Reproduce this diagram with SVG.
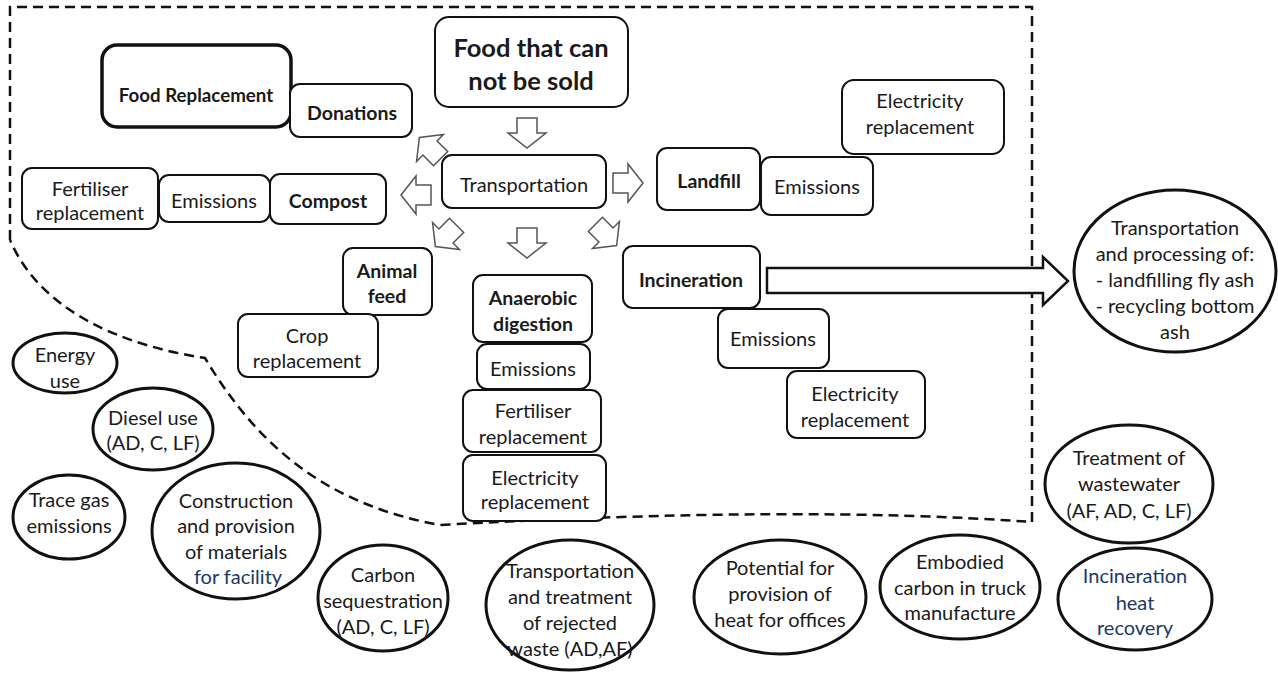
<svg xmlns="http://www.w3.org/2000/svg" width="1278" height="679" viewBox="0 0 1278 679">
<defs>
<style>
text{font-family:Lato,"Liberation Sans",sans-serif;fill:#1a1a1a;text-anchor:middle;dominant-baseline:central;font-size:20px}
.b{font-weight:bold;font-size:19.5px}
.big{font-weight:bold;font-size:25.5px}
.fr{font-weight:bold;font-size:18.7px}
.blue{fill:#203864}
.box{fill:#fff;stroke:#111;stroke-width:2}
.ell{fill:#fff;stroke:#111;stroke-width:3}
.arr{fill:#fff;stroke:#555;stroke-width:1.5;stroke-linejoin:miter}
.bnd{fill:none;stroke:#111;stroke-width:2.5;stroke-dasharray:10 6}
</style>
<path id="ha" d="M-15,-10 L0,-10 L0,-19 L15,0 L0,19 L0,10 L-15,10 Z"/>
</defs>
<rect width="1278" height="679" fill="#fff"/>
<path class="bnd" d="M10,240 L10,7 L1032,7 L1032,522 Q800,505 440,525 C330,505 260,450 205,358 C120,345 40,310 10,240"/>

<g id="connectors">
<use href="#ha" class="arr" transform="translate(527,133) rotate(90)"/>
<use href="#ha" class="arr" transform="translate(628,183)"/>
<use href="#ha" class="arr" transform="translate(416,195) rotate(180)"/>
<use href="#ha" class="arr" transform="translate(430,148) rotate(-135)"/>
<use href="#ha" class="arr" transform="translate(446,236) rotate(135)"/>
<use href="#ha" class="arr" transform="translate(527,243) rotate(90)"/>
<use href="#ha" class="arr" transform="translate(606,235) rotate(45)"/>
<path d="M767,268 L1043,268 L1043,257 L1068,281 L1043,305 L1043,293 L767,293 Z" fill="#fff" stroke="#111" stroke-width="2.5"/>
</g>

<g id="food"><rect class="box" x="435" y="17" width="193" height="90" rx="14"/><text class="big" x="531" y="47">Food that can</text><text class="big" x="531" y="80">not be sold</text></g>
<g id="foodrep"><rect x="102" y="45" width="189" height="82" rx="15" fill="#fff" stroke="#111" stroke-width="3.5"/><text class="fr" x="196" y="95">Food Replacement</text></g>
<g id="donations"><rect class="box" x="290" y="84" width="122" height="53" rx="10"/><text class="b" x="352" y="112">Donations</text></g>
<g id="transport"><rect class="box" x="442" y="155" width="164" height="53" rx="10"/><text x="524" y="184">Transportation</text></g>
<g id="fert1"><rect class="box" x="22" y="168" width="136" height="61" rx="10"/><text x="90" y="188">Fertiliser</text><text x="90" y="212">replacement</text></g>
<g id="emis1"><rect class="box" x="159" y="175" width="111" height="47" rx="10"/><text x="214" y="200">Emissions</text></g>
<g id="compost"><rect class="box" x="270" y="174" width="116" height="50" rx="10"/><text class="b" x="328" y="200">Compost</text></g>
<g id="landfill"><rect class="box" x="657" y="148" width="103" height="62" rx="10"/><text class="b" x="709" y="180">Landfill</text></g>
<g id="emis2"><rect class="box" x="761" y="157" width="112" height="58" rx="10"/><text x="817" y="186">Emissions</text></g>
<g id="elec1"><rect class="box" x="842" y="80" width="162" height="74" rx="12"/><text x="920" y="100">Electricity</text><text x="920" y="126">replacement</text></g>
<g id="animal"><rect class="box" x="343" y="248" width="89" height="67" rx="10"/><text class="b" x="387" y="270">Animal</text><text class="b" x="387" y="295">feed</text></g>
<g id="crop"><rect class="box" x="238" y="314" width="140" height="63" rx="10"/><text x="307" y="335">Crop</text><text x="307" y="360">replacement</text></g>
<g id="ad"><rect class="box" x="473" y="275" width="119" height="67" rx="10"/><text class="b" x="533" y="297">Anaerobic</text><text class="b" x="533" y="323">digestion</text></g>
<g id="emis3"><rect class="box" x="477" y="344" width="113" height="45" rx="10"/><text x="533" y="368">Emissions</text></g>
<g id="fert2"><rect class="box" x="463" y="390" width="138" height="62" rx="10"/><text x="533" y="410">Fertiliser</text><text x="533" y="436">replacement</text></g>
<g id="elec2"><rect class="box" x="463" y="455" width="143" height="66" rx="10"/><text x="535" y="477">Electricity</text><text x="535" y="501">replacement</text></g>
<g id="incin"><rect class="box" x="623" y="246" width="137" height="62" rx="10"/><text class="b" x="691" y="279">Incineration</text></g>
<g id="emis4"><rect class="box" x="718" y="309" width="111" height="59" rx="10"/><text x="773" y="338">Emissions</text></g>
<g id="elec3"><rect class="box" x="787" y="371" width="138" height="67" rx="10"/><text x="855" y="393">Electricity</text><text x="855" y="419">replacement</text></g>

<g id="ash"><ellipse class="ell" cx="1175" cy="271" rx="101" ry="81"/><text x="1175" y="227">Transportation</text><text x="1175" y="253">and processing of:</text><text x="1175" y="279">- landfilling fly ash</text><text x="1175" y="305">- recycling bottom</text><text x="1175" y="331">ash</text></g>
<g id="energy"><ellipse class="ell" cx="65" cy="363" rx="52" ry="30"/><text x="65" y="354">Energy</text><text x="65" y="380">use</text></g>
<g id="diesel"><ellipse class="ell" cx="153" cy="429" rx="60" ry="41"/><text x="153" y="417">Diesel use</text><text x="153" y="442">(AD, C, LF)</text></g>
<g id="trace"><ellipse class="ell" cx="69" cy="517" rx="56" ry="42"/><text x="69" y="499">Trace gas</text><text x="69" y="525">emissions</text></g>
<g id="construct"><ellipse class="ell" cx="236" cy="531" rx="84" ry="68"/><text x="236" y="500">Construction</text><text x="236" y="525">and provision</text><text x="236" y="551">of materials</text><text class="blue" x="238" y="576">for facility</text></g>
<g id="carbon"><ellipse class="ell" cx="383" cy="598" rx="65" ry="53"/><text x="383" y="574">Carbon</text><text x="383" y="600">sequestration</text><text x="383" y="626">(AD, C, LF)</text></g>
<g id="rejected"><ellipse class="ell" cx="570" cy="605" rx="84" ry="65"/><text x="570" y="570">Transportation</text><text x="570" y="596">and treatment</text><text x="570" y="622">of rejected</text><text x="570" y="648">waste (AD,AF)</text></g>
<g id="heat"><ellipse class="ell" cx="780" cy="597" rx="86" ry="57"/><text x="780" y="567">Potential for</text><text x="780" y="593">provision of</text><text x="780" y="619">heat for offices</text></g>
<g id="truck"><ellipse class="ell" cx="960" cy="587" rx="80" ry="52"/><text x="960" y="561">Embodied</text><text x="960" y="587">carbon in truck</text><text x="960" y="612">manufacture</text></g>
<g id="wastewater"><ellipse class="ell" cx="1129" cy="484" rx="84" ry="59"/><text x="1129" y="457">Treatment of</text><text x="1129" y="483">wastewater</text><text x="1129" y="510">(AF, AD, C, LF)</text></g>
<g id="recovery"><ellipse class="ell" cx="1135" cy="599" rx="77" ry="51"/><text class="blue" x="1135" y="575">Incineration</text><text class="blue" x="1135" y="602">heat</text><text class="blue" x="1135" y="627">recovery</text></g>
</svg>
